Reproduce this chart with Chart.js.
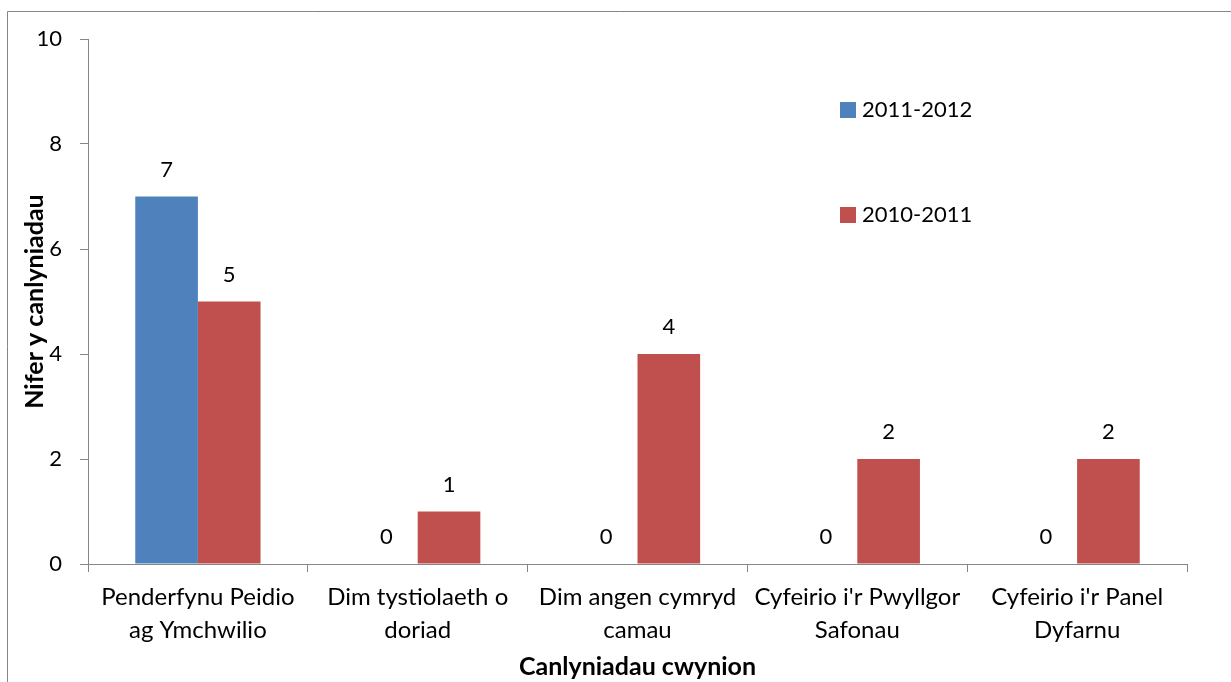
<!DOCTYPE html>
<html>
<head>
<meta charset="utf-8">
<script src="https://cdn.jsdelivr.net/npm/chart.js@4/dist/chart.umd.min.js"></script>
<style>
  html, body { margin: 0; padding: 0; background: #fff; }
  #wrap { width: 1231px; height: 682px; position: relative; }
</style>
</head>
<body>
<div id="wrap"><canvas id="chart"></canvas></div>
<script>
const categories = [
  ['Penderfynu Peidio', 'ag Ymchwilio'],
  ['Dim tystiolaeth o', 'doriad'],
  ['Dim angen cymryd', 'camau'],
  ["Cyfeirio i'r Pwyllgor", 'Safonau'],
  ["Cyfeirio i'r Panel", 'Dyfarnu']
];
const seriesNames = ['2011-2012', '2010-2011'];
const values2011_2012 = [7, 0, 0, 0, 0];
const values2010_2011 = [5, 1, 4, 2, 2];
const yTicks = [0, 2, 4, 6, 8, 10];

const FONT = 'Lato, "Open Sans", sans-serif';
const GREY = '#868686';

// value labels above every bar (zeros included, like the original)
const valueLabels = {
  id: 'valueLabels',
  afterDatasetsDraw(chart) {
    const ctx = chart.ctx;
    ctx.save();
    ctx.font = '22px ' + FONT;
    ctx.fillStyle = '#000';
    ctx.textAlign = 'center';
    ctx.textBaseline = 'alphabetic';
    chart.data.datasets.forEach((ds, i) => {
      chart.getDatasetMeta(i).data.forEach((bar, j) => {
        ctx.fillText(String(ds.data[j]), bar.x, bar.y - 20);
      });
    });
    ctx.restore();
  }
};

// legend stacked on the right inside the plot, plus the outer frame
const sideLegend = {
  id: 'sideLegend',
  afterDraw(chart) {
    const ctx = chart.ctx;
    ctx.save();
    ctx.strokeStyle = GREY;
    ctx.lineWidth = 1;
    ctx.beginPath();
    ctx.moveTo(7.5, chart.height);
    ctx.lineTo(7.5, 11.5);
    ctx.lineTo(chart.width, 11.5);
    ctx.stroke();

    ctx.font = '22px ' + FONT;
    ctx.textBaseline = 'middle';
    ctx.textAlign = 'left';
    chart.data.datasets.forEach((ds, i) => {
      const y = 110 + i * 105;
      ctx.fillStyle = ds.backgroundColor;
      ctx.fillRect(840, y - 8, 16, 16);
      ctx.fillStyle = '#000';
      ctx.fillText(ds.label, 862, y);
    });
    ctx.restore();
  }
};

new Chart(document.getElementById('chart'), {
  type: 'bar',
  data: {
    labels: categories,
    datasets: [
      { label: seriesNames[0], data: values2011_2012, backgroundColor: '#4F81BD' },
      { label: seriesNames[1], data: values2010_2011, backgroundColor: '#C0504D' }
    ]
  },
  options: {
    responsive: true,
    maintainAspectRatio: false,
    animation: false,
    layout: { padding: { top: 39, right: 44, left: 0, bottom: 0 } },
    categoryPercentage: 0.57,
    barPercentage: 1,
    plugins: {
      legend: { display: false },
      tooltip: { enabled: false }
    },
    scales: {
      x: {
        offset: true,
        grid: {
          offset: true,
          drawOnChartArea: false,
          drawTicks: true,
          tickLength: 8,
          color: GREY
        },
        border: { color: GREY, width: 1 },
        ticks: {
          color: '#000',
          font: { family: FONT, size: 24, lineHeight: 1.375 },
          padding: 9,
          maxRotation: 0,
          autoSkip: false
        },
        title: {
          display: true,
          text: 'Canlyniadau cwynion',
          color: '#000',
          font: { family: FONT, size: 25, weight: 'bold', lineHeight: 1.2 },
          padding: { top: 0, bottom: 0 }
        },
        afterFit(scale) { scale.height = 118; }
      },
      y: {
        min: 0,
        max: 10,
        afterBuildTicks(scale) { scale.ticks = yTicks.map(v => ({ value: v })); },
        grid: {
          drawOnChartArea: false,
          drawTicks: true,
          tickLength: 8,
          color: GREY
        },
        border: { color: GREY, width: 1 },
        ticks: {
          color: '#000',
          font: { family: FONT, size: 22 },
          padding: 18
        },
        title: {
          display: true,
          text: 'Nifer y canlyniadau',
          color: '#000',
          font: { family: FONT, size: 25, weight: 'bold', lineHeight: 1.2 },
          padding: { top: 20, bottom: 4 }
        },
        afterFit(scale) { scale.width = 88; }
      }
    }
  },
  plugins: [valueLabels, sideLegend]
});
</script>
</body>
</html>
